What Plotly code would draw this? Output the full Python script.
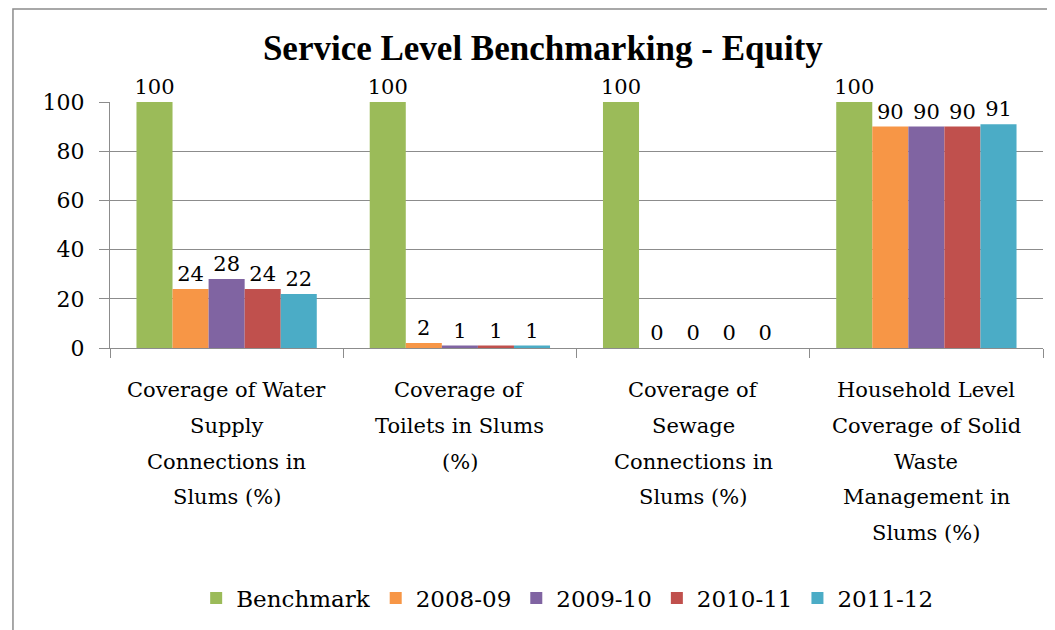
import plotly.graph_objects as go

categories = [
    "Coverage of Water<br>Supply<br>Connections in<br>Slums (%)",
    "Coverage of<br>Toilets in Slums<br>(%)",
    "Coverage of<br>Sewage<br>Connections in<br>Slums (%)",
    "Household Level<br>Coverage of Solid<br>Waste<br>Management in<br>Slums (%)",
]
series_names = ["Benchmark", "2008-09", "2009-10", "2010-11", "2011-12"]
benchmark = [100, 100, 100, 100]
y2008_09 = [24, 2, 0, 90]
y2009_10 = [28, 1, 0, 90]
y2010_11 = [24, 1, 0, 90]
y2011_12 = [22, 1, 0, 91]
y_ticks = [0, 20, 40, 60, 80, 100]

series_values = [benchmark, y2008_09, y2009_10, y2010_11, y2011_12]
colors = ["#9BBB59", "#F79646", "#8064A2", "#C0504D", "#4BACC6"]

TITLE_FONT = "Liberation Serif"
FONT = "DejaVu Serif"

fig = go.Figure()
for name, vals, col in zip(series_names, series_values, colors):
    fig.add_trace(go.Bar(
        name=name, x=categories, y=vals, marker_color=col,
        marker_line_width=0,
        text=[str(v) for v in vals], textposition="outside",
        constraintext="none",
        textfont=dict(family=FONT, size=21, color="black"),
        cliponaxis=False,
    ))

# category labels, one annotation per line (looser line spacing like the original)
for cat in categories:
    for i, line in enumerate(cat.split("<br>")):
        fig.add_annotation(text=line, x=cat, xref="x",
                           y=-(42 + 35.8 * i) / 246, yref="paper",
                           yanchor="middle", showarrow=False,
                           font=dict(family=FONT, size=21, color="black"))

# outer chart border
fig.add_shape(type="rect", xref="paper", yref="paper",
              x0=-0.104, x1=1.2, y0=-2.0, y1=1.378,
              line=dict(color="#8c8c8c", width=1.5), layer="below")

fig.update_layout(
    width=1055, height=630,
    margin=dict(l=102, r=20, t=94, b=290),
    paper_bgcolor="white", plot_bgcolor="white",
    barmode="group", bargap=0.227, bargroupgap=0,
    font=dict(family=FONT, size=22, color="black"),
    title=dict(text="<b>Service Level Benchmarking - Equity</b>",
               font=dict(family=TITLE_FONT, size=35, color="black"),
               x=0.507, xanchor="center", xref="container",
               y=1 - 40 / 630, yanchor="middle", yref="container"),
    showlegend=True,
    legend=dict(orientation="h", x=0.49, xanchor="center",
                y=-1.016, yanchor="middle",
                font=dict(family=FONT, size=23, color="black"),
                traceorder="normal", itemwidth=30),
)
fig.update_yaxes(range=[0, 100], tickvals=y_ticks, showgrid=True,
                 gridcolor="#8c8c8c", gridwidth=1,
                 showline=True, linecolor="#8c8c8c", linewidth=1,
                 ticks="outside", ticklen=10, tickcolor="#8c8c8c",
                 ticklabelstandoff=10,
                 tickfont=dict(family=FONT, size=22, color="black"),
                 zeroline=False)
fig.update_xaxes(showline=True, linecolor="#8c8c8c", linewidth=1,
                 ticks="outside", ticklen=9, tickcolor="#8c8c8c",
                 tickson="boundaries", showticklabels=False)

fig.write_html("out.html")
